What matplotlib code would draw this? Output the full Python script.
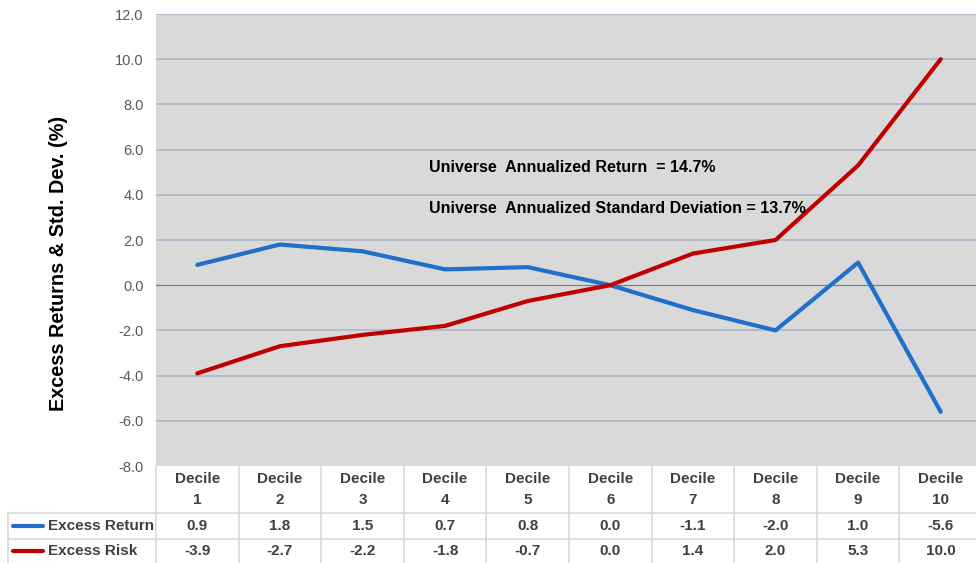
import matplotlib
matplotlib.use("Agg")
import matplotlib.pyplot as plt
from matplotlib.transforms import blended_transform_factory
from matplotlib.lines import Line2D

plt.rcParams['font.family'] = ['Liberation Sans', 'DejaVu Sans']

decile_labels = ["1", "2", "3", "4", "5", "6", "7", "8", "9", "10"]
excess_return = [0.9, 1.8, 1.5, 0.7, 0.8, 0.0, -1.1, -2.0, 1.0, -5.6]
excess_risk = [-3.9, -2.7, -2.2, -1.8, -0.7, 0.0, 1.4, 2.0, 5.3, 10.0]
series_names = ["Excess Return", "Excess Risk"]
yticks = [-8, -6, -4, -2, 0, 2, 4, 6, 8, 10, 12]

W, H = 976, 563
fig = plt.figure(figsize=(W / 100, H / 100), dpi=100)
L, R, T, B = 156, 982, 14, 466
ax = fig.add_axes([L / W, 1 - B / H, (R - L) / W, (B - T) / H])
ax.set_facecolor('#d9d9d9')

blue = '#1f6fcb'
red = '#c00000'
x = list(range(len(decile_labels)))
ax.plot(x, excess_return, color=blue, lw=3.0, solid_capstyle='round', zorder=3)
ax.plot(x, excess_risk, color=red, lw=3.0, solid_capstyle='round', zorder=3)

ax.set_xlim(-0.5, len(decile_labels) - 0.5)
ax.set_ylim(-8, 12)
ax.set_yticks(yticks)
ax.set_yticklabels([f"{v:.1f}" for v in yticks], color='#595959', fontsize=10.5)
ax.tick_params(axis='y', length=0, pad=9)
ax.set_xticks([])
for v in yticks:
    if v == 0:
        ax.axhline(v, color='#808080', lw=0.9, zorder=2)
    elif v != -8:
        ax.axhline(v, color='#a9b6c8', lw=1.2, zorder=1)
for s in ax.spines.values():
    s.set_visible(False)

ax.set_ylabel("Excess Returns & Std. Dev. (%)", fontsize=14.3, fontweight='bold')
ax.yaxis.set_label_coords(-(L - 68) / (R - L), 1 - (263 - T) / (B - T))

ax.text(2.8, 5.2, "Universe  Annualized Return  = 14.7%", fontsize=11.5, fontweight='bold', va='center')
ax.text(2.8, 3.4, "Universe  Annualized Standard Deviation = 13.7%", fontsize=11.5, fontweight='bold', va='center')

# data table
tr = blended_transform_factory(ax.transData, fig.transFigure)
def fy(py):
    return 1 - py / H

grid_c = '#d9d9d9'
tcolor = '#404040'
for i in range(len(decile_labels) + 1):
    xv = i - 0.5
    fig.add_artist(Line2D([xv, xv], [fy(466), fy(563)], transform=tr, color=grid_c, lw=1.2))
for py in (513, 539):
    fig.add_artist(Line2D([8 / W, 1], [fy(py), fy(py)], transform=fig.transFigure, color=grid_c, lw=1.2))
fig.add_artist(Line2D([8 / W, 8 / W], [fy(513), fy(563)], transform=fig.transFigure, color=grid_c, lw=1.2))

tkw = dict(transform=tr, ha='center', va='center', fontsize=11, fontweight='bold', color=tcolor)
for i, d in enumerate(decile_labels):
    fig.text(i, fy(479), "Decile", **tkw)
    fig.text(i, fy(500), d, **tkw)
    fig.text(i, fy(526), f"{excess_return[i]:.1f}", **tkw)
    fig.text(i, fy(551), f"{excess_risk[i]:.1f}", **tkw)

for py, name, col in ((526, series_names[0], blue), (551, series_names[1], red)):
    fig.add_artist(Line2D([13 / W, 43 / W], [fy(py), fy(py)], transform=fig.transFigure,
                          color=col, lw=3.0, solid_capstyle='round'))
    fig.text(48 / W, fy(py), name, ha='left', va='center', fontsize=11,
             fontweight='bold', color=tcolor)

fig.savefig("out.png", dpi=100)
